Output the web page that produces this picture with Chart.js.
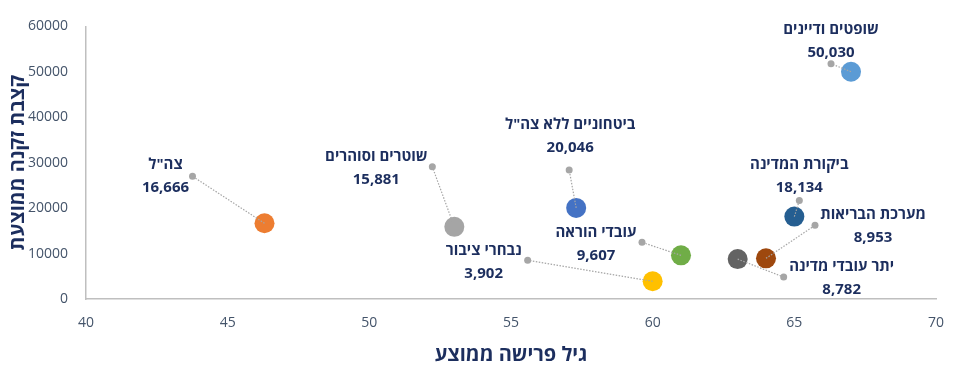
<!DOCTYPE html>
<html>
<head>
<meta charset="utf-8">
<script src="https://cdn.jsdelivr.net/npm/chart.js@4"></script>
<style>
  html, body { margin: 0; padding: 0; background: #fff; }
  #wrap { width: 955px; height: 390px; }
</style>
</head>
<body>
<div id="wrap"><canvas id="chart-1"></canvas></div>
<script>
// Data
const groups = ['צה"ל', "שוטרים וסוהרים", 'ביטחוניים ללא צה"ל', "נבחרי ציבור", "עובדי הוראה",
  "יתר עובדי מדינה", "מערכת הבריאות", "ביקורת המדינה", "שופטים ודיינים"];
const retireAge = [46.3, 53.0, 57.3, 60.0, 61.0, 63.0, 64.0, 65.0, 67.0];
const pension = [16666, 15881, 20046, 3902, 9607, 8782, 8953, 18134, 50030];
const colors = ["#ED7D31", "#A5A5A5", "#4472C4", "#FFC000", "#70AD47", "#636363", "#9E480E", "#255E91", "#5B9BD5"];

// label layout: [dotDx, dotDy, textDx, textDy] in px relative to the bubble
const labelPos = [
  [-72, -47, -99, -59],
  [-22, -60, -78, -70],
  [-7, -38, -6, -83],
  [-125, -21, -169, -31],
  [-39, -13, -85, -23],
  [46, 18, 104, 8],
  [49, -33, 107, -44],
  [5, -16, 5, -52],
  [-20, -8, -20, -42],
];

const navy = "#1C2E5E";
const tickColor = "#44546A";
const fontFam = "'Open Sans', 'Liberation Sans', sans-serif";

const leaderLabels = {
  id: "leaderLabels",
  afterDatasetsDraw(chart) {
    const ctx = chart.ctx;
    const pts = chart.getDatasetMeta(0).data;
    ctx.save();
    pts.forEach((p, i) => {
      const [dx, dy, tx, ty] = labelPos[i];
      const ex = p.x + dx, ey = p.y + dy;
      ctx.strokeStyle = "#A6A6A6";
      ctx.lineWidth = 1.2;
      ctx.setLineDash([1.5, 1.5]);
      ctx.beginPath();
      ctx.moveTo(p.x, p.y);
      ctx.lineTo(ex, ey);
      ctx.stroke();
      ctx.setLineDash([]);
      ctx.fillStyle = "#A6A6A6";
      ctx.beginPath();
      ctx.arc(ex, ey, 3.5, 0, Math.PI * 2);
      ctx.fill();

      ctx.fillStyle = navy;
      ctx.font = "bold 15px " + fontFam;
      ctx.textAlign = "center";
      ctx.textBaseline = "middle";
      ctx.direction = "rtl";
      ctx.fillText(groups[i], p.x + tx, p.y + ty);
      ctx.direction = "ltr";
      ctx.fillText(pension[i].toLocaleString("en-US"), p.x + tx, p.y + ty + 23);
    });
    ctx.restore();
  },
};

const ctx1 = document.getElementById("chart-1").getContext("2d");
const myChart = new Chart(ctx1, {
  type: "scatter",
  data: {
    labels: groups,
    datasets: [
      {
        data: retireAge.map((x, i) => ({ x: x, y: pension[i] })),
        backgroundColor: colors,
        borderWidth: 0,
        pointRadius: 10,
        pointHoverRadius: 10,
      },
    ],
  },
  options: {
    responsive: true,
    maintainAspectRatio: false,
    animation: false,
    layout: { padding: { left: 2, right: 6, top: 24, bottom: 19 } },
    plugins: { legend: { display: false }, tooltip: { enabled: false } },
    scales: {
      x: {
        min: 40,
        max: 70,
        afterFit: (s) => { s.height = 72; s.paddingRight = 19; },
        ticks: { stepSize: 5, color: tickColor, padding: 16, font: { size: 14, family: fontFam } },
        grid: { display: false, drawTicks: false },
        border: { color: "#BFBFBF", width: 1.5 },
        title: { display: true, text: "גיל פרישה ממוצע", color: navy, font: { size: 20, weight: "bold", family: fontFam } },
      },
      y: {
        min: 0,
        max: 60000,
        afterFit: (s) => { s.width = 84; },
        ticks: { stepSize: 10000, color: tickColor, padding: 18, callback: (v) => String(v), font: { size: 14, family: fontFam } },
        grid: { display: false, drawTicks: false },
        border: { color: "#BFBFBF", width: 1.5 },
        title: { display: true, text: "קצבת זקנה ממוצעת", color: navy, font: { size: 20, weight: "bold", family: fontFam } },
      },
    },
  },
  plugins: [leaderLabels],
});
</script>
</body>
</html>
